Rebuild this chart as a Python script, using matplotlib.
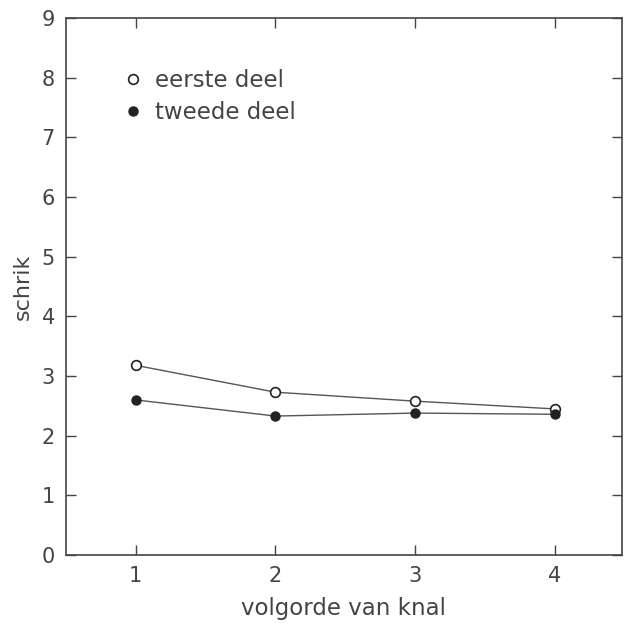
import matplotlib
matplotlib.use("Agg")
import matplotlib.pyplot as plt
from matplotlib.lines import Line2D

x = [1, 2, 3, 4]
eerste = [3.18, 2.73, 2.58, 2.45]
tweede = [2.60, 2.33, 2.38, 2.36]
xticks = [1, 2, 3, 4]
yticks = list(range(0, 10))

plt.rcParams['font.family'] = ['DejaVu Sans']
txt = '#444444'

fig = plt.figure(figsize=(6.25, 6.23), dpi=100)
ax = fig.add_axes([0.1056, 0.109, 0.889, 0.862])

ax.plot(x, eerste, color='#555555', lw=1.0, marker='o', ms=7, mfc='white', mec='#222222', mew=1.2)
ax.plot(x, tweede, color='#555555', lw=1.0, marker='o', ms=6.5, mfc='#222222', mec='#222222')

ax.set_xlim(0.5, 4.48)
ax.set_ylim(0, 9)
ax.set_xticks(xticks)
ax.set_yticks(yticks)
ax.tick_params(direction='in', top=True, right=True, length=7, width=1, colors='#444444',
               labelcolor=txt, labelsize=15, pad=8)
for s in ax.spines.values():
    s.set_color('#444444')
    s.set_linewidth(1.2)

ax.set_xlabel('volgorde van knal', fontsize=16.5, color=txt, labelpad=8)
ax.set_ylabel('schrik', fontsize=16, color=txt, labelpad=6)

handles = [
    Line2D([], [], ls='none', marker='o', ms=7, mfc='white', mec='#222222', mew=1.2),
    Line2D([], [], ls='none', marker='o', ms=6.5, mfc='#222222', mec='#222222'),
]
ax.legend(handles, ['eerste deel', 'tweede deel'], loc='upper left', bbox_to_anchor=(0.083, 0.923),
          frameon=False, fontsize=16.5, labelcolor=txt, handletextpad=0.46, handlelength=1.0,
          labelspacing=0.42, borderaxespad=0)

fig.savefig('out.png', dpi=100)
